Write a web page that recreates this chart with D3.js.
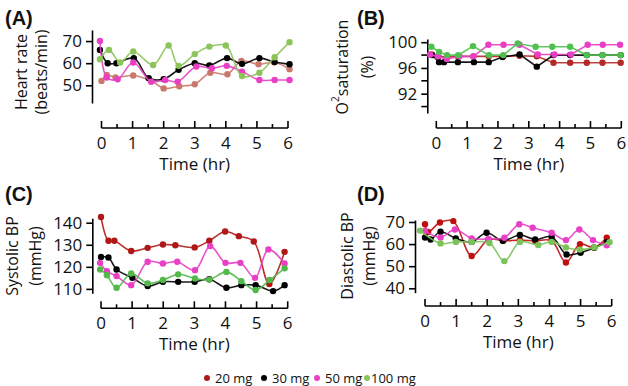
<!DOCTYPE html>
<html>
<head>
<meta charset="utf-8">
<script src="https://cdn.jsdelivr.net/npm/d3@7"></script>
<style>
  body { margin: 0; background: #fff; }
  svg { display: block; font-family: "Open Sans", "Noto Sans", sans-serif; }
</style>
</head>
<body>
<svg id="chart" width="628" height="386"></svg>
<script>
// doses (legend)
var doses = ["20 mg", "30 mg", "50 mg", "100 mg"];
var timeTicks = [0, 1, 2, 3, 4, 5, 6];

// (A) heart rate, [time hr, beats/min]
var hr20 = [[0, 52], [0.17, 54.7], [0.45, 53.6], [1.02, 54.4], [1.6, 52], [2, 48.6], [2.5, 49.6], [3, 50.5], [3.5, 55.7], [4.05, 55], [4.5, 61], [5.05, 59.5], [5.55, 60.4], [6.05, 57.3]];
var hr30 = [[-0.05, 66], [0.2, 60], [0.48, 60], [1.04, 62.3], [1.52, 53.2], [2, 52.8], [2.48, 57], [3, 60], [3.47, 59], [4.04, 62.3], [4.52, 59.7], [5.08, 62.3], [5.57, 60.5], [6.05, 59.5]];
var hr50 = [[-0.05, 70], [0.17, 53.5], [0.52, 52.7], [1.02, 60.3], [1.6, 51.6], [2.05, 52.4], [2.45, 51.6], [3.05, 58.5], [3.55, 57.7], [4.03, 58.8], [4.52, 56.2], [5.08, 52.4], [5.57, 52.4], [6.05, 52.4]];
var hr100 = [[-0.05, 61.8], [0.24, 66], [0.6, 60.3], [1.02, 65.3], [1.66, 59.2], [2.16, 68], [2.48, 58.8], [3, 64.1], [3.47, 67.5], [4, 68], [4.52, 54.2], [5.08, 55.7], [5.57, 62.7], [6.05, 69.5]];

// (B) O2 saturation, [time hr, %]
var o220 = [[-0.15, 98.1], [0.07, 97.8], [0.35, 97.7], [0.7, 97.8], [1.2, 97.8], [1.7, 97.8], [2.17, 97.8], [2.7, 97.9], [3.26, 97.8], [3.8, 96.8], [4.34, 96.8], [4.88, 96.8], [5.39, 96.8], [5.98, 96.8]];
var o230 = [[-0.13, 98], [0.09, 96.9], [0.25, 96.9], [0.7, 96.9], [1.22, 96.9], [1.7, 96.9], [2.15, 97.7], [2.7, 98.1], [3.26, 96.2], [3.8, 98], [4.34, 98], [4.88, 98], [5.39, 98], [5.98, 98]];
var o250 = [[-0.2, 98.1], [0.05, 97.8], [0.34, 97.4], [0.75, 97.8], [1.2, 97.8], [1.69, 99.6], [2.18, 99.6], [2.7, 99.6], [3.29, 98.1], [3.83, 98.1], [4.37, 98.1], [4.91, 99.6], [5.4, 99.6], [5.96, 99.6]];
var o2100 = [[-0.16, 99.3], [0.09, 98.5], [0.35, 98], [0.71, 98], [1.19, 99.4], [1.71, 98], [2.17, 98], [2.64, 99.8], [3.22, 99.3], [3.76, 99.3], [4.34, 99.3], [4.88, 98], [5.39, 98], [5.98, 98]];

// (C) systolic BP, [time hr, mmHg]
var sys20 = [[0, 142.6], [0.24, 131.8], [0.43, 131.8], [0.97, 127.2], [1.5, 128.6], [1.99, 130.1], [2.39, 129.8], [3.01, 128.8], [3.48, 131.8], [3.99, 136], [4.43, 133.9], [4.91, 131.5], [5.41, 112.2], [5.9, 126.8]];
var sys30 = [[0, 124.5], [0.24, 124.2], [0.5, 118.8], [1.01, 115], [1.5, 111.3], [1.99, 113.2], [2.48, 113.2], [3.01, 113.2], [3.48, 114.4], [4.03, 110.5], [4.51, 111.7], [4.97, 111.7], [5.53, 109], [5.9, 111.7]];
var sys50 = [[-0.03, 121.8], [0.19, 118], [0.5, 115.8], [0.97, 111.7], [1.5, 122.3], [1.99, 121.5], [2.45, 122.3], [3.02, 118.5], [3.51, 129.4], [4, 121.8], [4.48, 121.8], [4.95, 115], [5.38, 127.9], [5.9, 121.5]];
var sys100 = [[-0.03, 118.8], [0.19, 116.2], [0.5, 110.5], [0.97, 117], [1.5, 112.5], [1.99, 114], [2.48, 116.6], [3.02, 114.7], [3.48, 114.2], [4.03, 117.7], [4.51, 113.5], [4.97, 109.5], [5.42, 114], [5.9, 119.3]];

// (D) diastolic BP, [time hr, mmHg]
var dia20 = [[0, 69], [0.1, 65.5], [0.48, 69.8], [0.91, 70.4], [1.5, 54.6], [2.04, 62.1], [2.52, 61.5], [3.05, 61.8], [3.54, 61.5], [4.07, 61.5], [4.53, 51.7], [4.98, 60], [5.43, 58.5], [5.84, 62.9]];
var dia30 = [[0, 63], [0.18, 62.1], [0.5, 65.6], [0.99, 62.6], [1.5, 61], [1.98, 65.1], [2.5, 61.5], [3.05, 64.1], [3.54, 62.1], [4.07, 63.3], [4.55, 55.3], [5, 56.1], [5.44, 58.3], [5.84, 60.8]];
var dia50 = [[0, 66], [0.5, 63], [0.96, 66.6], [1.5, 62.6], [2.04, 62.3], [2.55, 62.9], [3.03, 69], [3.46, 67.4], [4.07, 65.1], [4.53, 61.8], [4.96, 66.6], [5.4, 61.8], [5.84, 59.5]];
var dia100 = [[-0.16, 66.1], [0.5, 60.3], [0.99, 61], [1.5, 61], [2.07, 60.5], [2.55, 52.3], [3.05, 61], [3.64, 59.6], [4.07, 61], [4.53, 58.5], [4.98, 57.5], [5.44, 58.5], [5.93, 60.8]];

var svg = d3.select("#chart");

var panels = [
  { tag: "(A)", series: [hr20, hr30, hr50, hr100], yDomain: [42, 75], yTicks: [50, 60, 70], minor: [],
    yTop: 30, yBot: 103, yAxisX: 92, x0: 101.5, x1: 288, xAxisY: 128,
    colors: ["#c9796c", "#000000", "#e83fc6", "#8cc45a"], titleX: 5, titleY: 25,
    label: ["Heart rate", "(beats/min)"], labX: [21, 41], labY: 72, curve: d3.curveCatmullRom.alpha(0.5) },
  { tag: "(B)", series: [o220, o230, o250, o2100], yDomain: [89, 100.5], yTicks: [92, 96, 100], minor: [90, 94, 98],
    yTop: 39, yBot: 113, yAxisX: 427.3, x0: 436.3, x1: 621.3, xAxisY: 128,
    colors: ["#b22a2a", "#000000", "#e83fc6", "#4fc04f"], titleX: 357, titleY: 25,
    label: ["O²saturation", "(%)"], labX: [342, 367], labY: 67, curve: d3.curveLinear },
  { tag: "(C)", series: [sys20, sys30, sys50, sys100], yDomain: [108, 142], yTicks: [110, 120, 130, 140], minor: [],
    yTop: 218.3, yBot: 293.3, yAxisX: 92.3, x0: 101, x1: 287.7, xAxisY: 308.3,
    colors: ["#b01818", "#000000", "#e83fc6", "#52b84a"], titleX: 5, titleY: 201,
    label: ["Systolic BP", "(mmHg)"], labX: [12, 35], labY: 256, curve: d3.curveCatmullRom.alpha(0.5) },
  { tag: "(D)", series: [dia20, dia30, dia50, dia100], yDomain: [38, 70.9], yTicks: [40, 50, 60, 70], minor: [],
    yTop: 220, yBot: 292.7, yAxisX: 415, x0: 425, x1: 611.7, xAxisY: 306,
    colors: ["#bf1010", "#000000", "#e83fc6", "#7cc25a"], titleX: 357, titleY: 201,
    label: ["Diastolic BP", "(mmHg)"], labX: [347, 369], labY: 256, curve: d3.curveCatmullRom.alpha(0.5) }
];

panels.forEach(function (p) {
  var x = d3.scaleLinear().domain([0, 6]).range([p.x0, p.x1]);
  var y = d3.scaleLinear().domain(p.yDomain).range([p.yBot, p.yTop]);

  // y axis
  var ya = svg.append("g")
    .attr("transform", "translate(" + p.yAxisX + ",0)")
    .call(d3.axisLeft(y).tickValues(p.yTicks).tickSize(6).tickSizeOuter(0).tickPadding(4));
  ya.selectAll(".tick line").attr("stroke", "#000").attr("stroke-width", 1.6);
  ya.select(".domain").attr("stroke", "#000").attr("stroke-width", 1.6);
  ya.selectAll("text").attr("font-size", 17).attr("fill", "#111").attr("font-family", "'Open Sans'");
  ya.selectAll(".minor").data(p.minor).enter().append("line")
    .attr("x1", -6).attr("x2", 0)
    .attr("y1", function (d) { return y(d); }).attr("y2", function (d) { return y(d); })
    .attr("stroke", "#000").attr("stroke-width", 1.6);

  // x axis, ticks point upward
  var xa = svg.append("g")
    .attr("transform", "translate(0," + p.xAxisY + ")");
  xa.append("line").attr("x1", x(0)).attr("x2", x(6)).attr("stroke", "#000").attr("stroke-width", 1.6);
  xa.selectAll(".maj").data(timeTicks).enter().append("line")
    .attr("x1", function (d) { return x(d); }).attr("x2", function (d) { return x(d); })
    .attr("y1", 0).attr("y2", -7).attr("stroke", "#000").attr("stroke-width", 1.6);
  xa.selectAll(".half").data(d3.range(0.5, 6, 1)).enter().append("line")
    .attr("x1", function (d) { return x(d); }).attr("x2", function (d) { return x(d); })
    .attr("y1", 0).attr("y2", -4).attr("stroke", "#000").attr("stroke-width", 1.6);
  xa.selectAll(".lab").data(timeTicks).enter().append("text")
    .attr("x", function (d) { return x(d); }).attr("y", 21)
    .attr("text-anchor", "middle").attr("font-size", 17).attr("fill", "#111")
    .text(function (d) { return d; });
  xa.append("text")
    .attr("x", (x(0) + x(6)) / 2).attr("y", 42)
    .attr("text-anchor", "middle").attr("font-size", 17).attr("fill", "#111")
    .text("Time (hr)");

  // panel tag
  svg.append("text").attr("x", p.titleX).attr("y", p.titleY)
    .attr("font-size", 20).attr("font-weight", "bold").attr("fill", "#111")
    .attr("font-family", "Arial, 'Liberation Sans', sans-serif")
    .text(p.tag);

  // y label (two lines, rotated)
  p.label.forEach(function (t, i) {
    var tx = svg.append("text")
      .attr("transform", "translate(" + p.labX[i] + "," + p.labY + ") rotate(-90)")
      .attr("text-anchor", "middle").attr("dominant-baseline", "central")
      .attr("font-size", 16).attr("fill", "#111");
    if (t.indexOf("²") >= 0) {
      tx.append("tspan").text("O");
      tx.append("tspan").attr("font-size", 10).attr("dy", -7).text("2");
      tx.append("tspan").attr("dy", 7).text("saturation");
    } else {
      tx.text(t);
    }
  });

  // series
  var line = d3.line()
    .x(function (d) { return x(d[0]); })
    .y(function (d) { return y(d[1]); })
    .curve(p.curve);

  p.series.forEach(function (s, i) {
    var g = svg.append("g");
    g.append("path").datum(s)
      .attr("d", line)
      .attr("fill", "none")
      .attr("stroke", p.colors[i])
      .attr("stroke-width", 1.6)
      .attr("opacity", 0.9);
    g.selectAll("circle").data(s).enter().append("circle")
      .attr("cx", function (d) { return x(d[0]); })
      .attr("cy", function (d) { return y(d[1]); })
      .attr("r", 3.2)
      .attr("fill", p.colors[i]);
  });
});

// legend
var legendColors = ["#b01818", "#000000", "#e83fc6", "#8cc45a"];
var legendX = [207, 264, 317, 367];
var lg = svg.append("g").attr("transform", "translate(0,378)");
doses.forEach(function (d, i) {
  lg.append("circle").attr("cx", legendX[i]).attr("cy", 0).attr("r", 3).attr("fill", legendColors[i]);
  lg.append("text").attr("x", legendX[i] + (i === 3 ? 4 : 8)).attr("y", 0)
    .attr("dominant-baseline", "central")
    .attr("font-size", 13).attr("fill", "#111").text(d);
});
</script>
</body>
</html>
